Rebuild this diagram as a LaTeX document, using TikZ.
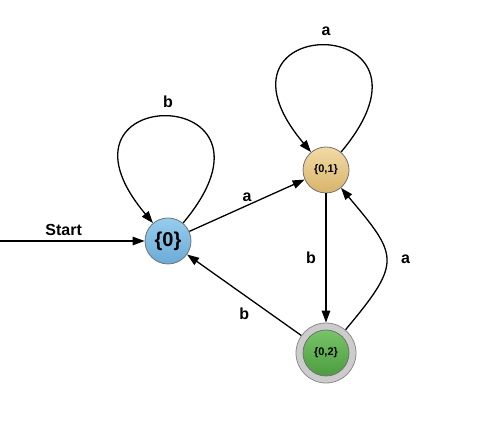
\documentclass[tikz,border=0pt]{standalone}
\usepackage{fontspec}
\setmainfont{Liberation Sans}
\usetikzlibrary{arrows.meta,positioning}

\definecolor{qzeroTop}{RGB}{150,205,238}
\definecolor{qzeroBot}{RGB}{108,170,214}
\definecolor{qoneTop}{RGB}{242,218,165}
\definecolor{qoneBot}{RGB}{216,180,108}
\definecolor{qtwoTop}{RGB}{120,196,104}
\definecolor{qtwoBot}{RGB}{76,156,64}
\definecolor{ringGray}{RGB}{204,204,204}

\begin{document}
\begin{tikzpicture}[
  x=1pt, y=1pt,
  >={Triangle[length=12pt,width=8.5pt]},
  font=\bfseries\fontsize{16}{18}\selectfont,
  state/.style={circle, draw=black!55, line width=0.8pt, minimum size=46pt, inner sep=0pt},
  blue/.style={state, top color=qzeroTop, bottom color=qzeroBot, font=\bfseries\fontsize{20}{22}\selectfont},
  tan/.style={state, top color=qoneTop, bottom color=qoneBot, font=\bfseries\fontsize{11}{13}\selectfont},
  green/.style={state, top color=qtwoTop, bottom color=qtwoBot, font=\bfseries\fontsize{11}{13}\selectfont},
  ring/.style={circle, draw=black!45, line width=0.8pt, fill=ringGray, minimum size=60pt, inner sep=0pt},
  arr/.style={->, line width=1.3pt},
  selfloop/.style={loop, out=50, in=130, min distance=185pt}
]
\useasboundingbox (0,0) rectangle (490,425);

\node[blue] (q0) at (168,184) {\{0\}};
\node[tan] (q1) at (326,255) {\{0,1\}};
\node[ring] (q2) at (326,72) {};
\node[green] (q2in) at (q2) {\{0,2\}};
\coordinate (start) at (0,184);

\draw[arr] (start) -- node[pos=0.44, above=1pt] {Start} (q0);
\draw[arr] (q0) to[selfloop] node[above=5pt] {b} (q0);
\draw[arr] (q1) to[selfloop] node[above=6pt] {a} (q1);
\draw[arr] (q0) -- node[above=0pt] {a} (q1);
\draw[arr] (q1) -- node[left=6pt] {b} (q2);
\draw[arr] (q2) to[out=50, in=-50, looseness=1.6] node[right=11pt] {a} (q1);
\draw[arr] (q2) -- node[below=9pt] {b} (q0);
\end{tikzpicture}
\end{document}
